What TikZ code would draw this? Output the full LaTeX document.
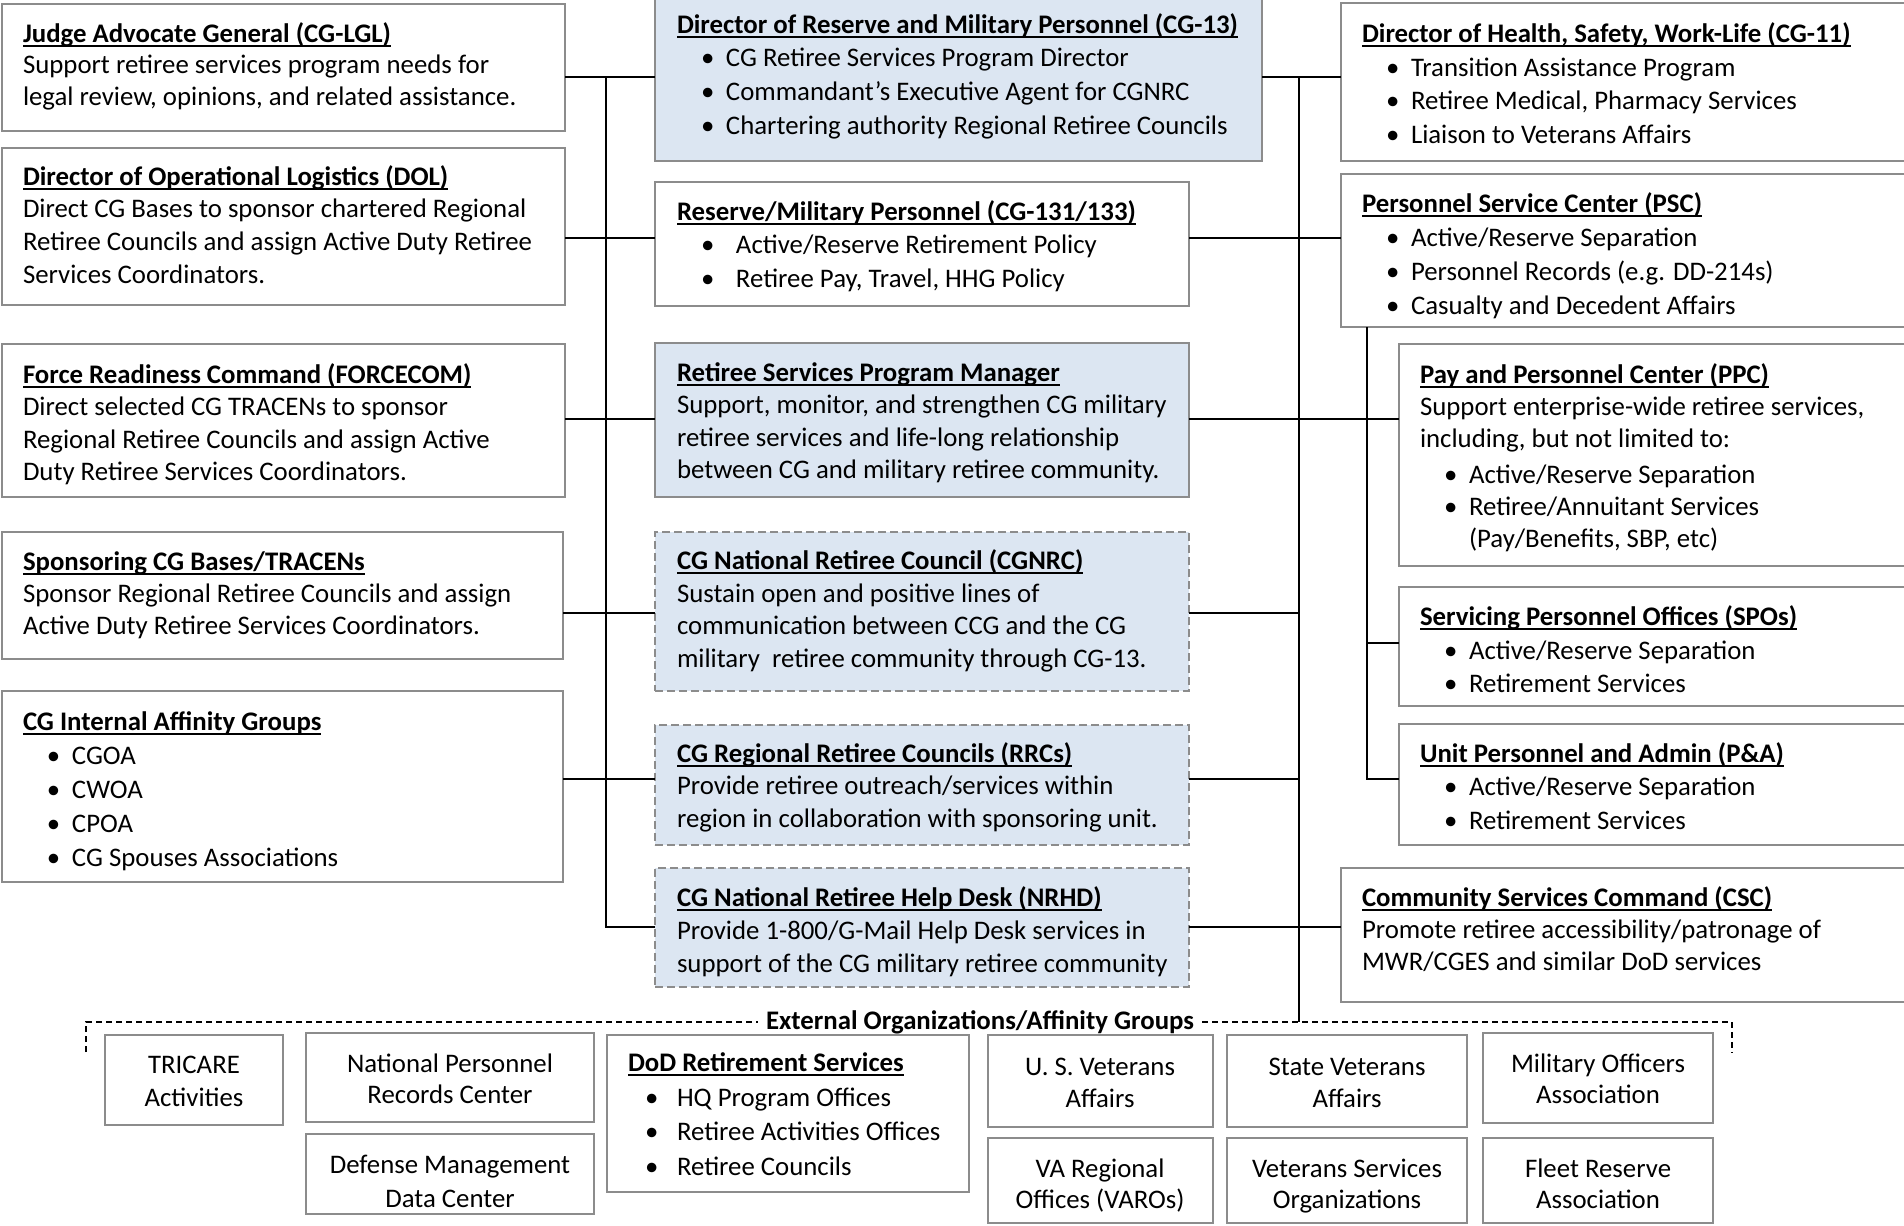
\documentclass[tikz,border=0pt]{standalone}
\usepackage{fontspec}
\setmainfont{Carlito}
\usetikzlibrary{calc}
\definecolor{bfill}{HTML}{DCE6F2}
\definecolor{bdraw}{HTML}{8C8C8C}
\newcommand\fs{13.4}
\newcommand\ttl[1]{\leavevmode\setbox0\hbox{\textbf{#1}}\rlap{\rule[-2.3pt]{\wd0}{0.8pt}}\box0}
\newcommand\itm[2][12.5pt]{\leavevmode\hspace*{12pt}\makebox[#1][l]{\textbullet}#2}
\newcommand\ditm[1]{\leavevmode\hspace*{8.5pt}\makebox[16pt][l]{\textbullet}#1}
\newcommand\blk[2]{\parbox[t]{360pt}{\fontsize{\fs}{#1}\selectfont\raggedright #2}}
\newcommand\cblk[3]{\parbox[t]{#1}{\fontsize{\fs}{#2}\selectfont\centering #3}}
\newcommand\frm[6]{\node[#1, minimum width={(#5-(#3))*0.5pt}, minimum height={(#6-(#4))*0.5pt}] (#2) at ({(#3+#5)/2},{(#4+#6)/2}) {};}
\tikzset{
  box/.style={draw=bdraw, line width=1pt, fill=white, inner sep=0pt, outer sep=0pt},
  bbox/.style={box, fill=bfill},
  dbox/.style={bbox, dash pattern=on 4pt off 2pt},
  tx/.style={anchor=base west, inner sep=0pt, outer sep=0pt, yshift=-0.7pt},
  tc/.style={anchor=base, inner sep=0pt, outer sep=0pt, yshift=-0.5pt},
  conn/.style={draw=black, line width=0.9pt},
  extl/.style={draw=black, line width=0.6pt, dash pattern=on 3pt off 2pt},
}
\begin{document}
\begin{tikzpicture}[x=0.5pt, y=-0.5pt]
\useasboundingbox (0,0) rectangle (1904,1225);
\clip (0,0) rectangle (1904,1225);
\fill[white] (0,0) rectangle (1904,1225);

% ---------- frames ----------
\frm{box}{jag}{2}{4}{565}{131}
\frm{box}{dol}{2}{148}{565}{305}
\frm{box}{frc}{2}{344}{565}{497}
\frm{box}{spn}{2}{532}{563}{659}
\frm{box}{cgi}{2}{691}{563}{882}
\frm{bbox}{cg13}{655}{-3}{1262}{161}
\frm{box}{c131}{655}{182}{1189}{306}
\frm{bbox}{rspm}{655}{343}{1189}{497}
\frm{dbox}{cgnrc}{655}{532}{1189}{691}
\frm{dbox}{rrc}{655}{725}{1189}{845}
\frm{dbox}{nrhd}{655}{868}{1189}{987}
\frm{box}{cg11}{1341}{3}{1915}{161}
\frm{box}{psc}{1341}{174}{1915}{327}
\frm{box}{ppc}{1399}{344}{1915}{566}
\frm{box}{spo}{1399}{587}{1915}{706}
\frm{box}{pa}{1399}{724}{1915}{845}
\frm{box}{csc}{1341}{868}{1915}{1002}
\frm{box}{tri}{105}{1035}{283}{1125}
\frm{box}{nprc}{306}{1033}{594}{1122}
\frm{box}{dmdc}{306}{1134}{594}{1214}
\frm{box}{dod}{607}{1035}{969}{1192}
\frm{box}{usva}{988}{1035}{1213}{1127}
\frm{box}{sva}{1227}{1035}{1467}{1127}
\frm{box}{moaa}{1483}{1033}{1713}{1123}
\frm{box}{varo}{988}{1138}{1213}{1223}
\frm{box}{vso}{1227}{1138}{1467}{1223}
\frm{box}{fra}{1483}{1138}{1713}{1223}

% ---------- texts ----------
\node[tx] (jagT) at (23,41) {\blk{15.8pt}{\ttl{Judge Advocate General (CG-LGL)}\\Support retiree services program needs for\\legal review, opinions, and related assistance.}};
\node[tx] (dolT) at (23,184) {\blk{16.3pt}{\ttl{Director of Operational Logistics (DOL)}\\Direct CG Bases to sponsor chartered Regional\\Retiree Councils and assign Active Duty Retiree\\Services Coordinators.}};
\node[tx] (frcT) at (23,382) {\blk{16.2pt}{\ttl{Force Readiness Command (FORCECOM)}\\Direct selected CG TRACENs to sponsor\\Regional Retiree Councils and assign Active\\Duty Retiree Services Coordinators.}};
\node[tx] (spnT) at (23,569) {\blk{16pt}{\ttl{Sponsoring CG Bases/TRACENs}\\Sponsor Regional Retiree Councils and assign\\Active Duty Retiree Services Coordinators.}};
\node[tx] (cgiT) at (23,729) {\blk{17pt}{\ttl{CG Internal Affinity Groups}\\\itm{CGOA}\\\itm{CWOA}\\\itm{CPOA}\\\itm{CG Spouses Associations}}};

\node[tx] (cg13T) at (677,32) {\blk{16.8pt}{\ttl{Director of Reserve and Military Personnel (CG-13)}\\\itm{CG Retiree Services Program Director}\\\itm{Commandant’s Executive Agent for CGNRC}\\\itm{Chartering authority Regional Retiree Councils}}};
\node[tx] (c131T) at (677,219) {\blk{16.8pt}{\ttl{Reserve/Military Personnel (CG-131/133)}\\\itm[17.5pt]{Active/Reserve Retirement Policy}\\\itm[17.5pt]{Retiree Pay, Travel, HHG Policy}}};
\node[tx] (rspmT) at (677,380) {\blk{16.2pt}{\ttl{Retiree Services Program Manager}\\Support, monitor, and strengthen CG military\\retiree services and life-long relationship\\between CG and military retiree community.}};
\node[tx] (cgnrcT) at (677,568) {\blk{16.3pt}{\ttl{CG National Retiree Council (CGNRC)}\\Sustain open and positive lines of\\communication between CCG and the CG\\military\ \ retiree community through CG-13.}};
\node[tx] (rrcT) at (677,761) {\blk{16.2pt}{\ttl{CG Regional Retiree Councils (RRCs)}\\Provide retiree outreach/services within\\region in collaboration with sponsoring unit.}};
\node[tx] (nrhdT) at (677,905) {\blk{16.5pt}{\ttl{CG National Retiree Help Desk (NRHD)}\\Provide 1-800/G-Mail Help Desk services in\\support of the CG military retiree community}};

\node[tx] (cg11T) at (1362,41) {\blk{16.9pt}{\ttl{Director of Health, Safety, Work-Life (CG-11)}\\\itm{Transition Assistance Program}\\\itm{Retiree Medical, Pharmacy Services}\\\itm{Liaison to Veterans Affairs}}};
\node[tx] (pscT) at (1362,211) {\blk{17.1pt}{\ttl{Personnel Service Center (PSC)}\\\itm{Active/Reserve Separation}\\\itm{Personnel Records (e.g. DD-214s)}\\\itm{Casualty and Decedent Affairs}}};
\node[tx] (ppcT) at (1420,382) {\blk{16.1pt}{\ttl{Pay and Personnel Center (PPC)}\\Support enterprise-wide retiree services,\\including, but not limited to:\\[1.5pt]\itm{Active/Reserve Separation}\\\itm{Retiree/Annuitant Services}\\\hspace*{24.5pt}(Pay/Benefits, SBP, etc)}};
\node[tx] (spoT) at (1420,624) {\blk{16.8pt}{\ttl{Servicing Personnel Offices (SPOs)}\\\itm{Active/Reserve Separation}\\\itm{Retirement Services}}};
\node[tx] (paT) at (1420,761) {\blk{16.7pt}{\ttl{Unit Personnel and Admin (P\&A)}\\\itm{Active/Reserve Separation}\\\itm{Retirement Services}}};
\node[tx] (cscT) at (1362,905) {\blk{16pt}{\ttl{Community Services Command (CSC)}\\Promote retiree accessibility/patronage of\\MWR/CGES and similar DoD services}};

\node[tc] (triT) at (194,1072) {\cblk{89pt}{16.5pt}{TRICARE\\Activities}};
\node[tc] (nprcT) at (450,1071) {\cblk{144pt}{15.5pt}{National Personnel\\Records Center}};
\node[tc] (dmdcT) at (450,1172) {\cblk{144pt}{17pt}{Defense Management\\Data Center}};
\node[tx] (dodT) at (628,1070) {\blk{17.3pt}{\ttl{DoD Retirement Services}\\\ditm{HQ Program Offices}\\\ditm{Retiree Activities Offices}\\\ditm{Retiree Councils}}};
\node[tc] (usvaT) at (1100,1074) {\cblk{112pt}{16pt}{U. S. Veterans\\Affairs}};
\node[tc] (svaT) at (1347,1074) {\cblk{120pt}{16pt}{State Veterans\\Affairs}};
\node[tc] (moaaT) at (1598,1071) {\cblk{115pt}{15.5pt}{Military Officers\\Association}};
\node[tc] (varoT) at (1100,1176) {\cblk{112pt}{15.5pt}{VA Regional\\Offices (VAROs)}};
\node[tc] (vsoT) at (1347,1176) {\cblk{120pt}{15.5pt}{Veterans Services\\Organizations}};
\node[tc] (fraT) at (1598,1176) {\cblk{115pt}{15.5pt}{Fleet Reserve\\Association}};

% ---------- left bus ----------
\coordinate (l1) at (606,77);
\coordinate (l2) at (606,238);
\coordinate (l3) at (606,419);
\coordinate (l4) at (606,613);
\coordinate (l5) at (606,779);
\coordinate (l6) at (606,927);
\draw[conn] (l1) -- (l6) -- (nrhd.west |- l6);
\draw[conn] (jag.east |- l1) -- (cg13.west |- l1);
\draw[conn] (dol.east |- l2) -- (c131.west |- l2);
\draw[conn] (frc.east |- l3) -- (rspm.west |- l3);
\draw[conn] (spn.east |- l4) -- (cgnrc.west |- l4);
\draw[conn] (cgi.east |- l5) -- (rrc.west |- l5);

% ---------- right bus ----------
\coordinate (r1) at (1299,77);
\coordinate (r2) at (1299,238);
\coordinate (r3) at (1299,419);
\coordinate (r4) at (1299,613);
\coordinate (r5) at (1299,779);
\coordinate (r6) at (1299,927);
\coordinate (r7) at (1299,1022);
\draw[conn] (r1) -- (r7);
\draw[conn] (cg13.east |- r1) -- (cg11.west |- r1);
\draw[conn] (c131.east |- r2) -- (psc.west |- r2);
\draw[conn] (rspm.east |- r3) -- (ppc.west |- r3);
\draw[conn] (cgnrc.east |- r4) -- (r4);
\draw[conn] (rrc.east |- r5) -- (r5);
\draw[conn] (nrhd.east |- r6) -- (csc.west |- r6);

% ---------- PSC sub-bus ----------
\coordinate (s1) at (1367,643);
\coordinate (s2) at (1367,779);
\draw[conn] (psc.south -| s1) -- (s2) -- (pa.west |- s2);
\draw[conn] (s1) -- (spo.west |- s1);

% ---------- external organizations ----------
\node[font=\bfseries\fontsize{\fs}{15}\selectfont, inner xsep=4pt, inner ysep=0pt] (ext) at (980,1022) {External Organizations/Affinity Groups};
\coordinate (e1) at (86,1052);
\coordinate (e2) at (86,1022);
\coordinate (e3) at (1732,1022);
\coordinate (e4) at (1732,1053);
\draw[extl] (e1) -- (e2) -- (ext.west |- e2);
\draw[extl] (ext.east |- e3) -- (e3) -- (e4);
\end{tikzpicture}
\end{document}
